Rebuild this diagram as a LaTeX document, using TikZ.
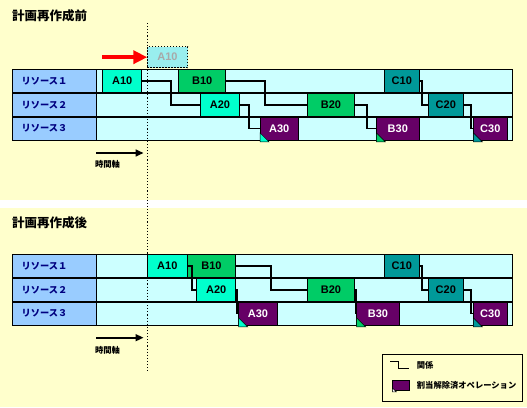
\documentclass[tikz,border=0pt]{standalone}
\usepackage{fontspec}
\setmainfont{Liberation Sans}
\newfontfamily\jp{Noto Sans CJK JP}
\usetikzlibrary{arrows.meta}
\definecolor{bgy}{HTML}{FFFFCC}
\definecolor{labc}{HTML}{99CCFF}
\definecolor{trackc}{HTML}{CCFFFF}
\definecolor{colA}{HTML}{00FFCC}
\definecolor{colB}{HTML}{00CC66}
\definecolor{colC}{HTML}{009999}
\definecolor{colP}{HTML}{660066}
\definecolor{navy}{HTML}{000080}
\definecolor{ghostc}{HTML}{99EEEE}
\definecolor{ghosttxt}{HTML}{A8A8A8}
\begin{document}
\begin{tikzpicture}[x=1pt,y=-1pt,
  op/.style={draw=black, line width=0.8pt, inner sep=0pt, outer sep=0pt, anchor=north west,
    minimum height=23.67pt, font=\bfseries\fontsize{11}{12}\selectfont},
  opA/.style={op, fill=colA},
  opB/.style={op, fill=colB},
  opC/.style={op, fill=colC},
  opP/.style={op, fill=colP, text=white},
  conn/.style={line width=1.8pt, line join=miter},
  fold/.style={draw=black, line width=0.5pt},
  reslab/.style={anchor=west, text=navy, inner sep=0pt, font=\jp\bfseries\fontsize{9.2}{10}\selectfont},
  ttl/.style={anchor=west, inner sep=0pt, font=\jp\bfseries\fontsize{12.5}{14}\selectfont},
  small/.style={anchor=west, inner sep=0pt, font=\jp\bfseries\fontsize{8.3}{9}\selectfont},
  tlab/.style={inner sep=0pt, font=\jp\bfseries\fontsize{8.3}{9}\selectfont},
  border/.style={line width=0.9pt},
  rowsep/.style={line width=1.8pt},
  dotline/.style={line width=1.1pt, dash pattern=on 1.1pt off 2pt},
  timearrow/.style={line width=1.6pt, -{Triangle[length=8pt,width=7pt]}},
  redarrow/.style={red, line width=4.5pt, -{Triangle[length=14pt,width=13pt]}}
]
\useasboundingbox (0,0) rectangle (527,407);
\fill[bgy] (0,0) rectangle (527,407);
\fill[white] (0,200) rectangle (527,208);

% ================= top half =================
\node[ttl] (title1) at (12,15.5) {計画再作成前};

\fill[labc] (12,69.3) rectangle (96,140.3);
\fill[trackc] (96,69.3) rectangle (512,140.3);
\node[reslab] (tR1) at (21.5,81.2) {リソース１};
\node[reslab] (tR2) at (21.5,104.9) {リソース２};
\node[reslab] (tR3) at (21.5,128.5) {リソース３};

\node[opA, minimum width=39pt] (tA10) at (102.7,69.3) {A10};
\node[opB, minimum width=47pt] (tB10) at (178.7,69.3) {B10};
\node[opC, minimum width=35pt] (tC10) at (384.3,69.3) {C10};
\node[opA, minimum width=38.6pt] (tA20) at (200.7,93) {A20};
\node[opB, minimum width=46.6pt] (tB20) at (307.7,93) {B20};
\node[opC, minimum width=35pt] (tC20) at (428.3,93) {C20};
\node[opP, minimum width=38.3pt] (tA30) at (260,116.7) {A30};
\node[opP, minimum width=43pt] (tB30) at (376.3,116.7) {B30};
\node[opP, minimum width=34pt] (tC30) at (473.3,116.7) {C30};

\draw[border] (12,69.3) rectangle (512,140.3);
\draw[border] (96,69.3) -- (96,140.3);
\draw[rowsep] (12,93) -- (512,93);
\draw[rowsep] (12,116.7) -- (512,116.7);

\draw[conn] (tA10.east) -- ++(29.3,0) |- (tA20.west);
\draw[conn] (tA20.east) -- ++(10,0) |- (tA30.west);
\draw[conn] (tB10.east) -- ++(39.6,0) |- (tB20.west);
\draw[conn] (tB20.east) -- ++(12.4,0) |- (tB30.west);
\draw[conn] (tC10.east) -- ++(3,0) |- (tC20.west);
\draw[conn] (tC20.east) -- ++(7.4,0) |- (tC30.west);

\filldraw[fold, fill=colA] (tA30.south west) ++(0,-7.5) -- ++(0,9) -- ++(9,0) -- cycle;
\filldraw[fold, fill=colB] (tB30.south west) ++(0,-7.5) -- ++(0,9) -- ++(9,0) -- cycle;
\filldraw[fold, fill=colC] (tC30.south west) ++(0,-7.5) -- ++(0,9) -- ++(9,0) -- cycle;

\node[op, fill=ghostc, draw=black, dash pattern=on 1.5pt off 1.5pt, line width=1pt,
  minimum width=40.4pt, minimum height=21pt, text=ghosttxt] (gA10) at (147.3,46.7) {A10};
\coordinate (redstart) at (102,57.2);
\draw[redarrow] (redstart) -- (gA10.west);

\coordinate (t1s) at (96,153);
\coordinate (t1e) at (143.5,153);
\draw[timearrow] (t1s) -- (t1e);
\node[tlab] (t1l) at (107.5,164.5) {時間軸};

% ================= bottom half =================
\node[ttl] (title2) at (12,222.5) {計画再作成後};

\fill[labc] (12,254.3) rectangle (96,325.3);
\fill[trackc] (96,254.3) rectangle (512,325.3);
\node[reslab] (bR1) at (21.5,266.2) {リソース１};
\node[reslab] (bR2) at (21.5,289.9) {リソース２};
\node[reslab] (bR3) at (21.5,313.5) {リソース３};

\node[opA, minimum width=40pt] (bA10) at (147.3,254.3) {A10};
\node[opB, minimum width=48.4pt] (bB10) at (187.3,254.3) {B10};
\node[opC, minimum width=35pt] (bC10) at (384.3,254.3) {C10};
\node[opA, minimum width=39pt] (bA20) at (196.7,278) {A20};
\node[opB, minimum width=46.6pt] (bB20) at (307.7,278) {B20};
\node[opC, minimum width=35pt] (bC20) at (428.3,278) {C20};
\node[opP, minimum width=38.6pt] (bA30) at (238.7,301.7) {A30};
\node[opP, minimum width=42.6pt] (bB30) at (356.7,301.7) {B30};
\node[opP, minimum width=34pt] (bC30) at (473.3,301.7) {C30};

\draw[border] (12,254.3) rectangle (512,325.3);
\draw[border] (96,254.3) -- (96,325.3);
\draw[rowsep] (12,278) -- (512,278);
\draw[rowsep] (12,301.7) -- (512,301.7);

\draw[conn] (bA10.east) -- ++(4.7,0) |- (bA20.west);
\draw[conn] (bA20.east) -- ++(1.3,0) |- (bA30.west);
\draw[conn] (bB10.east) -- ++(35.3,0) |- (bB20.west);
\draw[conn] (bB20.east) -- ++(1.4,0) |- (bB30.west);
\draw[conn] (bC10.east) -- ++(3,0) |- (bC20.west);
\draw[conn] (bC20.east) -- ++(7.4,0) |- (bC30.west);

\filldraw[fold, fill=colA] (bA30.south west) ++(0,-7.5) -- ++(0,9) -- ++(9,0) -- cycle;
\filldraw[fold, fill=colB] (bB30.south west) ++(0,-7.5) -- ++(0,9) -- ++(9,0) -- cycle;
\filldraw[fold, fill=colC] (bC30.south west) ++(0,-7.5) -- ++(0,9) -- ++(9,0) -- cycle;

\coordinate (t2s) at (96,337.7);
\coordinate (t2e) at (143.5,337.7);
\draw[timearrow] (t2s) -- (t2e);
\node[tlab] (t2l) at (107.5,350.5) {時間軸};

% vertical dotted line
\coordinate (vtop) at (147.3,23);
\coordinate (vbot) at (147.3,373);
\draw[dotline] (vtop) -- (vbot);

% ================= legend =================
\node[draw=black, line width=0.9pt, inner sep=0pt, anchor=north west,
  minimum width=140pt, minimum height=46.7pt] (leg) at (382.3,354.3) {};
\coordinate (lc) at (390,361.7);
\draw[line width=1.5pt] (lc) -- ++(8.3,0) -- ++(0,6.6) -- ++(10.7,0);
\node[small] (legt1) at (416.7,365) {関係};
\node[draw=black, line width=0.8pt, fill=colP, inner sep=0pt, anchor=north west,
  minimum width=17pt, minimum height=10pt] (legp) at (392.3,380) {};
\filldraw[fill=white, draw=black, line width=0.4pt] (legp.south west) ++(0,-3) -- ++(0,4) -- ++(4,0) -- cycle;
\node[small] (legt2) at (416.7,385.5) {割当解除済オペレーション};
\end{tikzpicture}
\end{document}
